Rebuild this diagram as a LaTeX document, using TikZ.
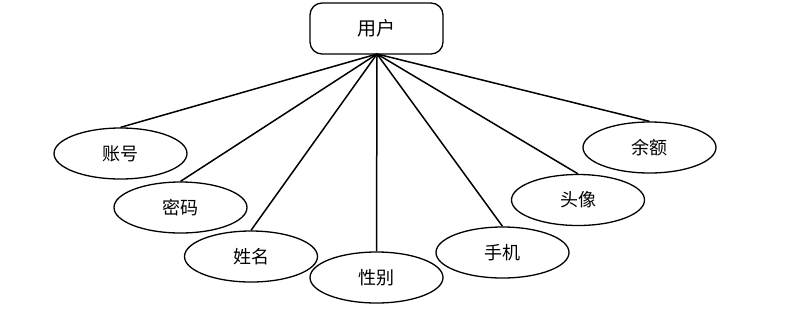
\documentclass[tikz,border=0pt]{standalone}
\usepackage{fontspec}
\newfontfamily\cjk{Noto Sans CJK SC}
\usetikzlibrary{shapes.geometric}
\begin{document}
\begin{tikzpicture}[x=1pt,y=-1pt,
  entity/.style={draw,line width=1.3pt,rounded corners=12pt,minimum width=133pt,minimum height=51pt,font=\cjk\fontsize{19}{19}\selectfont,inner sep=0pt},
  attr/.style={draw,ellipse,line width=1.3pt,minimum width=133pt,minimum height=51pt,font=\cjk\fontsize{18}{18}\selectfont,inner sep=0pt},
  link/.style={line width=1.5pt}]
\useasboundingbox (0,0) rectangle (791,317);
\node[entity] (u) at (376.5,28.5) {用户};
\coordinate (apex) at (377,54);
\node[attr] (a1) at (120.5,153.5) {账号};
\node[attr] (a2) at (180.5,207.5) {密码};
\node[attr] (a3) at (251,256.5) {姓名};
\node[attr] (a4) at (376.5,277.5) {性别};
\node[attr] (a5) at (502.5,252.5) {手机};
\node[attr] (a6) at (578,200) {头像};
\node[attr] (a7) at (649.5,147.5) {余额};
\foreach \n in {a1,a2,a3,a4,a5,a6,a7}
  \draw[link] (apex) -- (\n.north);
\end{tikzpicture}
\end{document}
